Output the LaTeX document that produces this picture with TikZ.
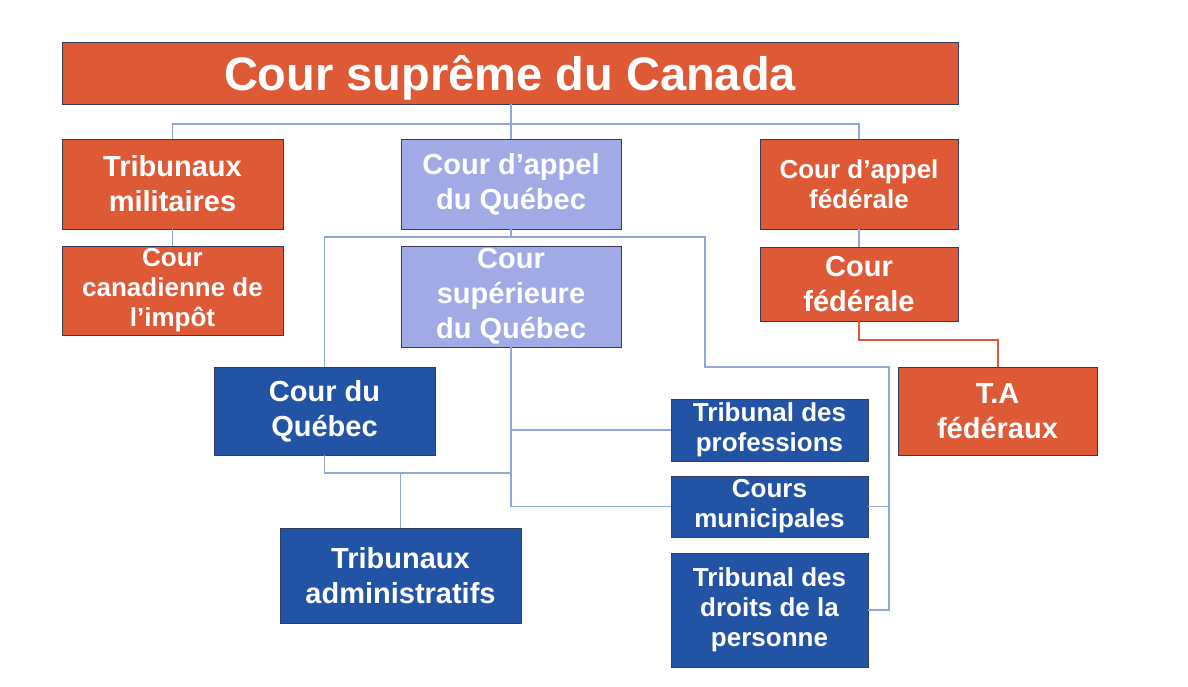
\documentclass[tikz,border=0pt]{standalone}
\usepackage{fontspec}
\setmainfont{Liberation Sans}
\definecolor{orng}{HTML}{DE5A36}
\definecolor{lpurp}{HTML}{A2AAE6}
\definecolor{dblue}{HTML}{2353A4}
\definecolor{lnblue}{HTML}{8EA9D8}
\definecolor{bord}{HTML}{343C5E}
\begin{document}
\begin{tikzpicture}[x=1pt,y=-1pt,
  box/.style={draw=bord,line width=0.9pt,inner sep=0pt,align=center,text=white,font=\bfseries},
  big/.style={font=\bfseries\fontsize{29}{35}\selectfont},
  small/.style={font=\bfseries\fontsize{26}{30}\selectfont},
  ob/.style={box,fill=orng},
  pb/.style={box,fill=lpurp},
  bb/.style={box,fill=dblue},
  conn/.style={draw=lnblue,line width=1.3pt},
  rconn/.style={draw=orng,line width=2pt}]
\useasboundingbox[fill=white] (0,0) rectangle (1188,686);
% nodes
\node[ob,minimum width=896pt,minimum height=62pt,text height=34pt,text depth=0pt,font=\bfseries\fontsize{47}{52}\selectfont] (title) at (510,73) {Cour suprême du Canada};
\node[ob,big,minimum width=221pt,minimum height=90pt] (mil) at (172.5,184) {Tribunaux\\militaires};
\node[pb,big,minimum width=220pt,minimum height=90pt] (appelqc) at (511,184) {Cour d’appel\\du Québec};
\node[ob,small,minimum width=198pt,minimum height=90pt] (appelfed) at (859,184) {Cour d’appel\\fédérale};
\node[ob,small,minimum width=221pt,minimum height=89pt] (imp) at (172.5,290.5) {Cour\\canadienne de\\l’impôt};
\node[pb,big,minimum width=220pt,minimum height=101pt] (cs) at (511,296.5) {Cour\\supérieure\\du Québec};
\node[ob,big,minimum width=198pt,minimum height=74pt] (cf) at (859,284) {Cour\\fédérale};
\node[bb,big,minimum width=221pt,minimum height=88pt] (cq) at (324.5,411) {Cour du\\Québec};
\node[ob,big,minimum width=199pt,minimum height=88pt] (taf) at (997.5,411) {T.A\\fédéraux};
\node[bb,small,minimum width=197pt,minimum height=62pt] (tp) at (769.5,430) {Tribunal des\\professions};
\node[bb,small,minimum width=197pt,minimum height=61pt] (cm) at (769.5,506.5) {Cours\\municipales};
\node[bb,small,minimum width=197pt,minimum height=114pt] (tdp) at (769.5,610) {Tribunal des\\droits de la\\personne};
\node[bb,big,minimum width=241pt,minimum height=95pt] (ta) at (400.5,575.5) {Tribunaux\\administratifs};
% junction coordinates
\coordinate (j1) at (511,124);
\coordinate (j2) at (511,237);
\coordinate (j2r) at (705,237);
\coordinate (j3) at (705,367);
\coordinate (j4) at (889,367);
\coordinate (j5) at (511,473);
\coordinate (j6) at (930,340);
% connectors
\draw[conn] (appelqc.north |- title.south) -- (appelqc.north);
\draw[conn] (mil.north) |- (j1) -| (appelfed.north);
\draw[conn] (mil.south) -- (imp.north);
\draw[conn] (appelfed.south) -- (cf.north);
\draw[conn] (appelqc.south) -- (j2);
\draw[conn] (cq.north) |- (j2r) -- (j3) -- (j4) |- (tdp.east);
\draw[conn] (cm.east) -- (cm.east -| j4);
\draw[conn] (cs.south) |- (cm.west);
\draw[conn] (tp.west) -- (tp.west -| cs.south);
\draw[conn] (cq.south) |- (j5);
\draw[conn] (ta.north) -- (ta.north |- j5);
\draw[rconn] (cf.south) |- (j6) -| (taf.north);
\end{tikzpicture}
\end{document}
